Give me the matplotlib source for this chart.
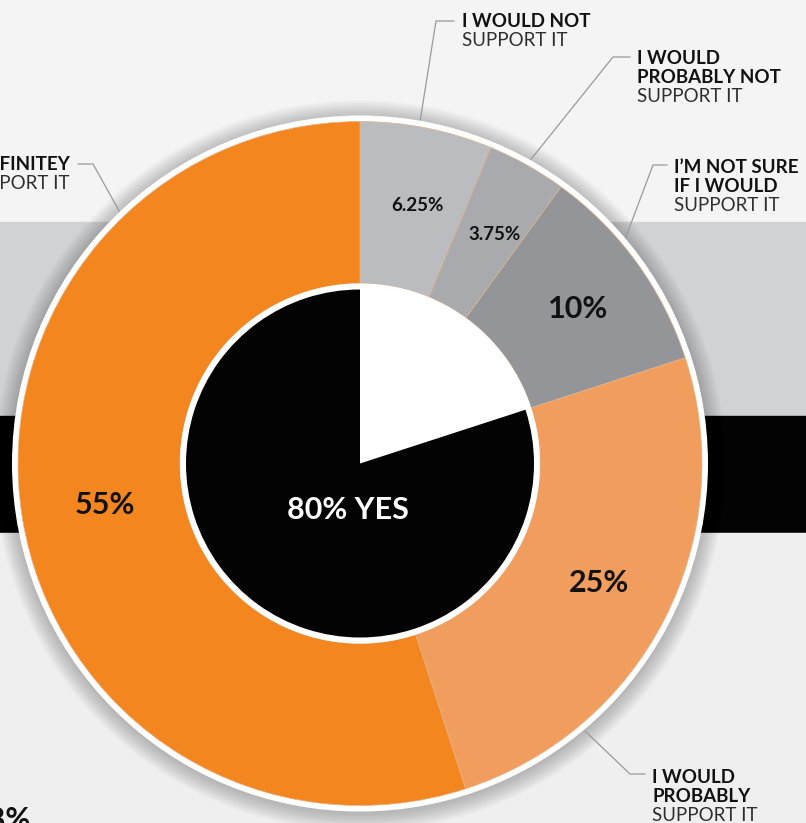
import numpy as np
import matplotlib
matplotlib.use("Agg")
import matplotlib.pyplot as plt
from matplotlib.patches import Circle

plt.rcParams['font.family'] = ['Lato', 'DejaVu Sans']

W, H = 806, 823

# survey answers, clockwise from 12 o'clock
answers = [["I WOULD NOT"], ["I WOULD", "PROBABLY NOT"], ["I\u2019M NOT SURE", "IF I WOULD"],
           ["I WOULD", "PROBABLY"], ["I WOULD DEFINITEY"]]
shares = [6.25, 3.75, 10, 25, 55]
pct_labels = ["6.25%", "3.75%", "10%", "25%", "55%"]
ring_colors = ["#bbbcbf", "#a9aaad", "#939598", "#f19d5e", "#f3861f"]

# inner pie: yes / other
yes_no = [20, 80]
inner_colors = ["#ffffff", "#030303"]

cx, cy = 360, H - 463.5   # centre (y up)
r_out, r_in, r_core = 342, 180, 174

fig = plt.figure(figsize=(W / 100, H / 100), dpi=100)
ax = fig.add_axes([0, 0, 1, 1])

# background bands
ax.axhspan(H - 222, H, color="#f4f4f4", zorder=0)
ax.axhspan(H - 416, H - 222, color="#d1d2d4", zorder=0)
ax.axhspan(H - 533, H - 416, color="#030303", zorder=0)
ax.axhspan(0, H - 533, color="#efefef", zorder=0)

# soft shadow round the donut
for r in np.arange(349, 366, 1.5):
    ax.add_patch(Circle((cx, cy - 2), r, color="black", alpha=0.018, lw=0, zorder=1))
ax.add_patch(Circle((cx, cy), 348, color="white", lw=0, zorder=3))

wedges, _ = ax.pie(shares, radius=r_out, center=(cx, cy), startangle=90,
                   counterclock=False, colors=ring_colors,
                   wedgeprops=dict(width=r_out - r_in, edgecolor="#e2b48c", linewidth=0.5))
for w in wedges:
    w.set_zorder(4)

ax.add_patch(Circle((cx, cy), r_in, color="white", lw=0, zorder=5))
inner, _ = ax.pie(yes_no, radius=r_core, center=(cx, cy), startangle=90,
                  counterclock=False, colors=inner_colors,
                  wedgeprops=dict(linewidth=0))
for w in inner:
    w.set_zorder(6)

# value labels in the ring
r_mid = (r_out + r_in) / 2 + 2
for w, lab in zip(wedges, pct_labels):
    a = np.deg2rad((w.theta1 + w.theta2) / 2)
    small = len(lab) > 4
    ax.text(cx + r_mid * np.cos(a) + (6 if small else 5), cy + r_mid * np.sin(a), lab,
            ha="center", va="center", fontsize=13.5 if small else 22,
            fontweight="bold", color="#111111", zorder=8)

ax.text(cx - 12, H - 510, "80% YES", ha="center", va="center", fontsize=22,
        fontweight="bold", color="white", zorder=8)

# callouts: leader line points (image px) and text anchor
callouts = [
    ([(419, 128), (436, 21), (454, 21)], (462, 27), "left"),
    ([(528, 163), (613, 57), (630, 57)], (637, 64), "left"),
    ([(624, 242), (653, 165), (667, 165)], (674, 173), "left"),
    ([(585, 731), (630, 774), (645, 774)], (652, 783), "left"),
    ([(122, 216), (93, 164), (78, 164)], (70, 170), "right"),
]
for (pts, (tx, ty), ha), lines in zip(callouts, answers):
    xs = [p[0] for p in pts]
    ys = [H - p[1] for p in pts]
    ax.plot(xs, ys, color="#9a9a9a", lw=0.9, zorder=2)
    for i, line in enumerate(lines + ["SUPPORT IT"]):
        bold = i < len(lines)
        ax.text(tx, H - ty - 19 * i, line, ha=ha, va="baseline", fontsize=13.5,
                fontweight="bold" if bold else "normal",
                color="#111111" if bold else "#2e2e2e", zorder=8)

ax.text(30, H - 806, "38%", ha="right", va="top", fontsize=22, fontweight="bold",
        color="#111111", zorder=8)

ax.set_xlim(0, W)
ax.set_ylim(0, H)
ax.set_aspect("auto")
ax.axis("off")

fig.savefig("out.png", dpi=100)
